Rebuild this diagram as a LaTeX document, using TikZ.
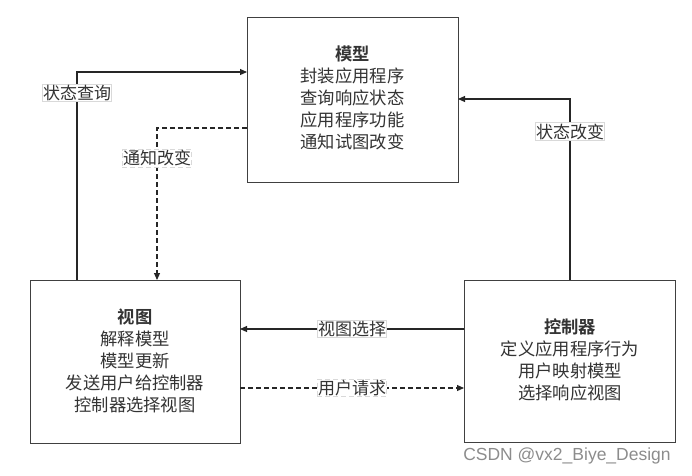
\documentclass[tikz,border=0pt]{standalone}
\usepackage{fontspec}
\setmainfont{Liberation Sans}
\newfontfamily\cjk{Noto Sans CJK SC}
\newfontfamily\cjkb{Noto Sans CJK SC Bold}
\usetikzlibrary{arrows.meta}
\begin{document}
\begin{tikzpicture}[x=1pt,y=-1pt,
  box/.style={draw=black!75, line width=1pt, fill=white},
  txt/.style={align=center, font=\cjk\fontsize{17.3}{22}\selectfont, text=black!80},
  lbl/.style={draw=black!15, fill=white, inner sep=0.8pt, font=\cjk\fontsize{17}{19}\selectfont, text=black!80},
  conn/.style={line width=1.1pt, black!85, -{Triangle[length=7pt,width=6pt]}},
  dconn/.style={conn, dash pattern=on 5pt off 3pt}]
\useasboundingbox (0,0) rectangle (692,475);
% boxes
\draw[box] (247,17) rectangle (458,182);
\draw[box] (30,280) rectangle (240,443);
\draw[box] (464,280) rectangle (675,442);
\coordinate (mL1) at (247,72);
\coordinate (mL2) at (247,128);
\coordinate (mR) at (458,99);
\coordinate (vT1) at (77,280);
\coordinate (vT2) at (157,280);
\coordinate (vR1) at (240,329);
\coordinate (vR2) at (240,388);
\coordinate (cT) at (570,280);
\coordinate (cL1) at (464,329);
\coordinate (cL2) at (464,388);
\node[txt] (mt) at (352.5,98) {{\cjkb 模型}\\封装应用程序\\查询响应状态\\应用程序功能\\通知试图改变};
\node[txt] (vt) at (135,361) {{\cjkb 视图}\\解释模型\\模型更新\\发送用户给控制器\\控制器选择视图};
\node[txt] (ct) at (570,360) {{\cjkb 控制器}\\定义应用程序行为\\用户映射模型\\选择响应视图};
% connectors
\draw[conn] (vT1) |- (mL1) node[lbl, pos=0.45] (l1) {状态查询};
\draw[dconn] (mL2) -| (vT2) node[lbl, pos=0.6] (l2) {通知改变};
\draw[conn] (cT) |- (mR) node[lbl, pos=0.41] (l3) {状态改变};
\draw[conn] (cL1) -- (vR1) node[lbl, pos=0.5] (l4) {视图选择};
\draw[dconn] (vR2) -- (cL2) node[lbl, pos=0.5] (l5) {用户请求};
\node[text=black!45, font=\fontsize{17.5}{17.5}\selectfont] (wm) at (567,456) {CSDN @vx2\_Biye\_Design};
\end{tikzpicture}
\end{document}
